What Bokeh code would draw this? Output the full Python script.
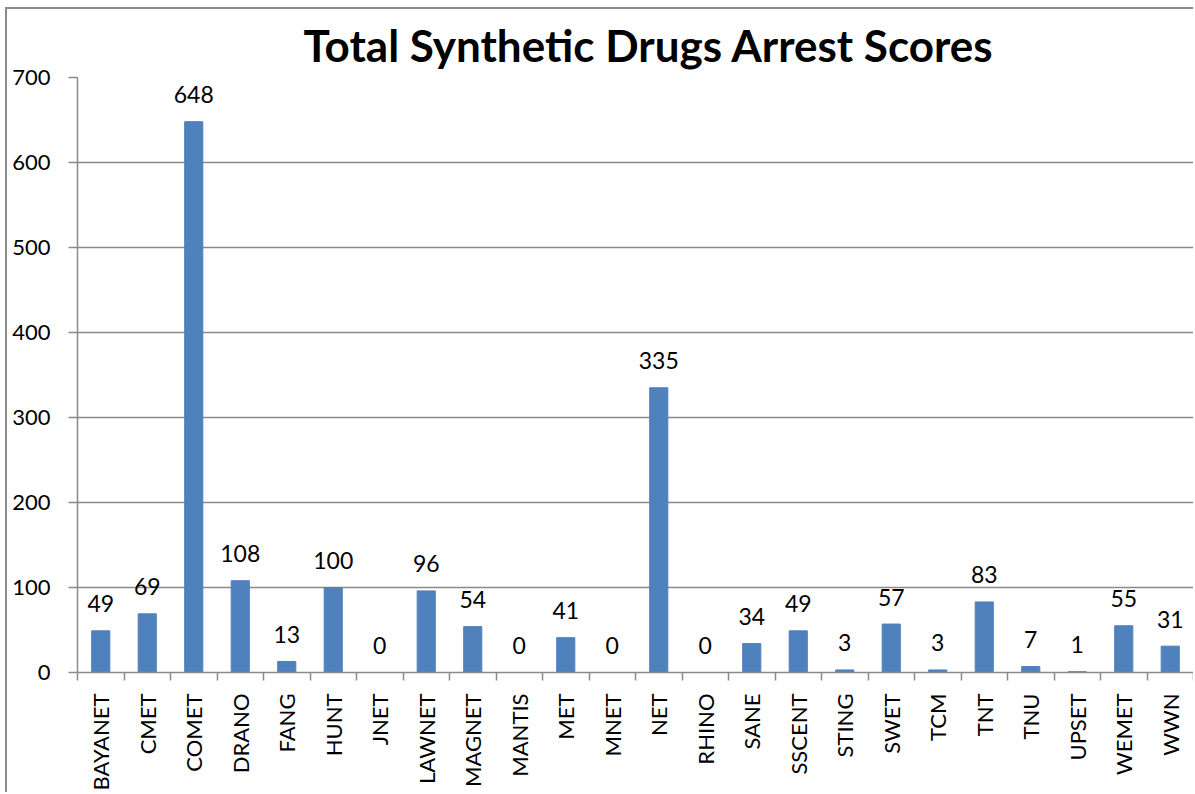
import math
from bokeh.plotting import figure
from bokeh.models import FixedTicker, Range1d, ColumnDataSource
from bokeh.core.properties import value
from bokeh.embed import file_html
from bokeh.resources import INLINE

categories = ["BAYANET", "CMET", "COMET", "DRANO", "FANG", "HUNT", "JNET", "LAWNET",
              "MAGNET", "MANTIS", "MET", "MNET", "NET", "RHINO", "SANE", "SSCENT",
              "STING", "SWET", "TCM", "TNT", "TNU", "UPSET", "WEMET", "WWN"]
scores = [49, 69, 648, 108, 13, 100, 0, 96, 54, 0, 41, 0, 335, 0, 34, 49,
          3, 57, 3, 83, 7, 1, 55, 31]
y_ticks = [0, 100, 200, 300, 400, 500, 600, 700]
title_text = "Total Synthetic Drugs Arrest Scores"

FONT = "Lato"
GRAY = "#8a8a8a"
n = len(categories)
centers = [i + 0.5 for i in range(n)]

src = ColumnDataSource(dict(x=centers, v=scores, lbl=[str(s) for s in scores]))

p = figure(width=1188, height=785, output_backend="svg", toolbar_location=None,
           x_range=Range1d(0, n), y_range=Range1d(0, 700),
           min_border_left=70, min_border_right=2, min_border_top=67, min_border_bottom=122)
p.styles = {"border-left": "2px solid #8a8a8a", "border-top": "2px solid #8a8a8a",
            "margin-left": "5px", "margin-top": "7px"}

p.title.text = title_text
p.title.align = "left"
p.title.offset = 226
p.title.standoff = 14
p.title.text_font = FONT
p.title.text_font_size = "44px"
p.title.text_font_style = "bold"
p.title.text_color = "black"

p.vbar(x="x", top="v", width=0.39, source=src, fill_color="#4F81BD", line_color="#4F81BD")
p.text(x="x", y="v", text="lbl", source=src, text_align="center", text_baseline="alphabetic",
       y_offset=-27, text_font=value(FONT), text_font_size="23px", text_color="black")

p.outline_line_color = None
p.xgrid.grid_line_color = None
p.ygrid.grid_line_color = GRAY
p.ygrid.grid_line_width = 1.5
p.ygrid.ticker = FixedTicker(ticks=y_ticks)

xa = p.xaxis[0]
xa.ticker = FixedTicker(ticks=centers, minor_ticks=list(range(n + 1)))
xa.major_label_overrides = {c: name for c, name in zip(centers, categories)}
xa.major_tick_line_color = None
xa.minor_tick_line_color = GRAY
xa.minor_tick_line_width = 1.5
xa.minor_tick_out = 8
xa.minor_tick_in = 0
xa.axis_line_color = GRAY
xa.axis_line_width = 1.5
xa.major_label_orientation = math.pi / 2
xa.major_label_standoff = 13
xa.major_label_text_font = FONT
xa.major_label_text_font_size = "22px"
xa.major_label_text_color = "black"

ya = p.yaxis[0]
ya.ticker = FixedTicker(ticks=y_ticks, minor_ticks=[])
ya.major_tick_line_color = GRAY
ya.major_tick_line_width = 1.5
ya.major_tick_out = 9
ya.major_tick_in = 0
ya.axis_line_color = GRAY
ya.axis_line_width = 1.5
ya.major_label_standoff = 18
ya.major_label_text_font = FONT
ya.major_label_text_font_size = "22px"
ya.major_label_text_color = "black"

open("out.html", "w").write(file_html(p, INLINE))
